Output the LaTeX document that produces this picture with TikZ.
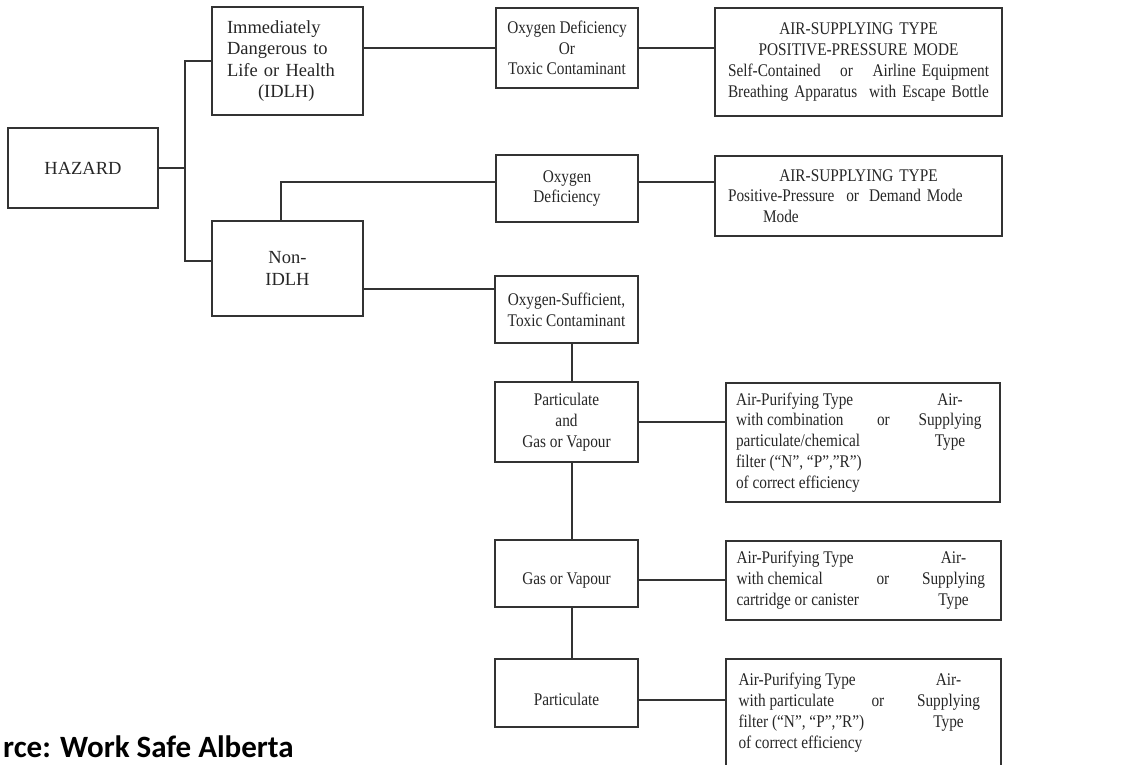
\documentclass[tikz,border=0pt]{standalone}
\usepackage{fontspec}
\usepackage{array}
\setmainfont{Liberation Serif}
\newfontfamily\narrowfont[FakeStretch=0.86]{Liberation Serif}
\newfontfamily\srcfont{Carlito}
\newcolumntype{C}[1]{>{\centering\arraybackslash}p{#1}}
\tikzset{
  bx/.style={draw=black!80,line width=1.3pt,text=black!85,inner sep=0pt,font=\fontsize{18.5}{21.3}\selectfont},
  nb/.style={bx,font=\narrowfont\fontsize{17.8}{20.8}\selectfont},
  ln/.style={draw=black!80,line width=1.3pt},
}
\begin{document}
\begin{tikzpicture}[x=1pt,y=-1pt]
\useasboundingbox (0,0) rectangle (1128,764);
\clip (0,0) rectangle (1128,764);
% left column
\node[bx,minimum width=150pt,minimum height=80pt] (hazard) at (83,168) {HAZARD};
\node[bx,text width=121pt,inner xsep=15pt,minimum height=108pt,align=left] (idlh) at (287.5,61)
  {Immediately\\Dangerous to\\Life or Health\\\hspace*{31pt}(IDLH)};
\node[bx,minimum width=151pt,minimum height=95pt,align=center] (nonidlh) at (287.5,268.5) {Non-\\IDLH};
% middle column
\node[nb,minimum width=142pt,minimum height=80pt,align=center] (oxtox) at (567,48) {Oxygen Deficiency\\Or\\Toxic Contaminant};
\node[nb,minimum width=142pt,minimum height=67pt,align=center] (oxdef) at (567,188.5) {Oxygen\\Deficiency};
\node[nb,minimum width=143pt,minimum height=67pt,align=center] (oxsuf) at (566.5,309.5) {Oxygen-Sufficient,\\Toxic Contaminant};
\node[nb,minimum width=143pt,minimum height=80pt,align=center] (pgv) at (566.5,422) {Particulate\\and\\Gas or Vapour};
\node[nb,minimum width=143pt,minimum height=67pt,text height=26pt] (gv) at (566.5,573.5) {Gas or Vapour};
\node[nb,minimum width=143pt,minimum height=68pt,text height=26pt] (part) at (566.5,693) {Particulate};
% right column
\node[nb,text width=261pt,inner xsep=13pt,minimum height=108pt,align=center] (asr1) at (858.5,62)
  {AIR-SUPPLYING TYPE\\POSITIVE-PRESSURE MODE\\Self-Contained\hfill or\hfill Airline Equipment\\Breathing Apparatus\hfill with Escape Bottle};
\node[nb,text width=261pt,inner xsep=13pt,minimum height=80pt,align=center] (asr2) at (858.5,196)
  {AIR-SUPPLYING TYPE\\Positive-Pressure\hspace{12pt}or\hspace{10pt}Demand Mode\hfill\mbox{}\\\hspace*{35pt}Mode\hfill\mbox{}};
\node[nb,minimum width=274pt,minimum height=119pt] (apc) at (863,442.5) {%
  \begin{tabular}{@{}p{141pt}@{}p{33pt}@{}C{80pt}@{}}
  Air-Purifying Type & & Air-\\
  with combination & or & Supplying\\
  particulate/chemical & & Type\\
  filter (“N”, “P”,”R”) & & \\
  of correct efficiency & &
  \end{tabular}};
\node[nb,minimum width=275pt,minimum height=79pt] (acc) at (863.5,580.5) {%
  \begin{tabular}{@{}p{140pt}@{}p{40pt}@{}C{74pt}@{}}
  Air-Purifying Type & & Air-\\
  with chemical & or & Supplying\\
  cartridge or canister & & Type
  \end{tabular}};
\node[nb,minimum width=275pt,minimum height=108pt] (apf) at (863.5,713) {%
  \begin{tabular}{@{}p{133pt}@{}p{37pt}@{}C{80pt}@{}}
  Air-Purifying Type & & Air-\\
  with particulate & or & Supplying\\
  filter (“N”, “P”,”R”) & & Type\\
  of correct efficiency & &
  \end{tabular}};
\node[font=\srcfont\bfseries\fontsize{31}{36}\selectfont,anchor=base west,inner sep=0pt] (src) at (3,757) {rce: Work Safe Alberta};
% connectors
\coordinate (j1) at (185,168);
\coordinate (j2) at (185,261);
\coordinate (j3) at (281,182);
\coordinate (j4) at (0,289);
\coordinate (j5) at (0,580);
\coordinate (j6) at (0,700);
\coordinate (sp) at (572,0);
\draw[ln] (hazard.east) -- (j1);
\draw[ln] (idlh.west) -| (j2) -- (j2 -| nonidlh.west);
\draw[ln] (idlh.east |- oxtox.west) -- (oxtox.west);
\draw[ln] (oxtox.east) -- (oxtox.east -| asr1.west);
\draw[ln] (j3 |- nonidlh.north) -- (j3) -- (j3 -| oxdef.west);
\draw[ln] (j3 -| oxdef.east) -- (j3 -| asr2.west);
\draw[ln] (j4 -| nonidlh.east) -- (j4 -| oxsuf.west);
\draw[ln] (sp |- oxsuf.south) -- (sp |- pgv.north);
\draw[ln] (sp |- pgv.south) -- (sp |- gv.north);
\draw[ln] (sp |- gv.south) -- (sp |- part.north);
\draw[ln] (pgv.east) -- (pgv.east -| apc.west);
\draw[ln] (j5 -| gv.east) -- (j5 -| acc.west);
\draw[ln] (j6 -| part.east) -- (j6 -| apf.west);
\end{tikzpicture}
\end{document}
